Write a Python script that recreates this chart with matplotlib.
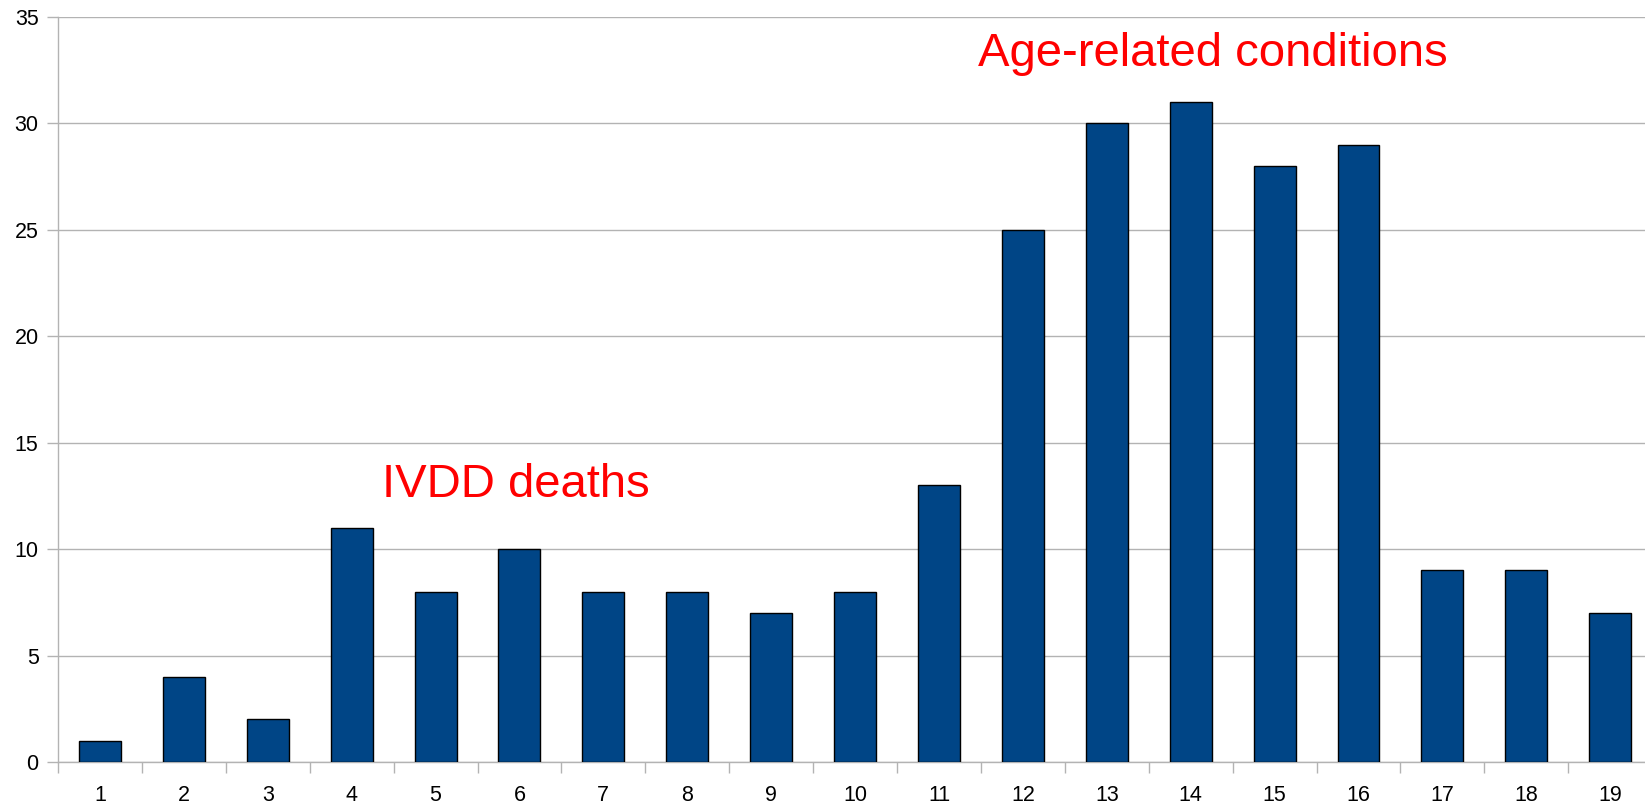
import numpy as np
import matplotlib
matplotlib.use("Agg")
from matplotlib import pyplot as plt
from matplotlib.ticker import FixedLocator

ages = list(range(1, 20))
deaths = [1, 4, 2, 11, 8, 10, 8, 8, 7, 8, 13, 25, 30, 31, 28, 29, 9, 9, 7]
y_ticks = [0, 5, 10, 15, 20, 25, 30, 35]

plt.rcParams['font.family'] = ['Liberation Sans', 'DejaVu Sans']

fig = plt.figure(figsize=(16.45, 8.07), dpi=100)
ax = fig.add_axes([58 / 1645, 1 - 762 / 807, 1 - 58 / 1645, (762 - 17) / 807])

ax.bar(ages, deaths, width=0.5, color='#004586', edgecolor='black', linewidth=1, zorder=3)

ax.set_xlim(0.5, 19.415)
ax.set_ylim(0, 35)
ax.set_yticks(y_ticks)
ax.set_xticks(ages)
ax.xaxis.set_minor_locator(FixedLocator(np.arange(0.5, 20, 1)))
ax.tick_params(axis='x', which='major', length=0, pad=16.5, labelsize=15.5)
ax.tick_params(axis='x', which='minor', length=8, width=1, color='#b3b3b3', direction='out')
ax.tick_params(axis='y', length=8, width=1, color='#b3b3b3', pad=6, labelsize=15.5)

ax.grid(axis='y', color='#b3b3b3', linewidth=1, zorder=0)
ax.set_axisbelow(True)
for s in ['top', 'right']:
    ax.spines[s].set_visible(False)
for s in ['left', 'bottom']:
    ax.spines[s].set_color('#b3b3b3')
    ax.spines[s].set_linewidth(1)

ax.text(4.36, 12.44, 'IVDD deaths', color='#ff0000', fontsize=34, ha='left', va='baseline')
ax.text(11.47, 32.70, 'Age-related conditions', color='#ff0000', fontsize=34, ha='left', va='baseline')

plt.savefig('out.png', dpi=100)
